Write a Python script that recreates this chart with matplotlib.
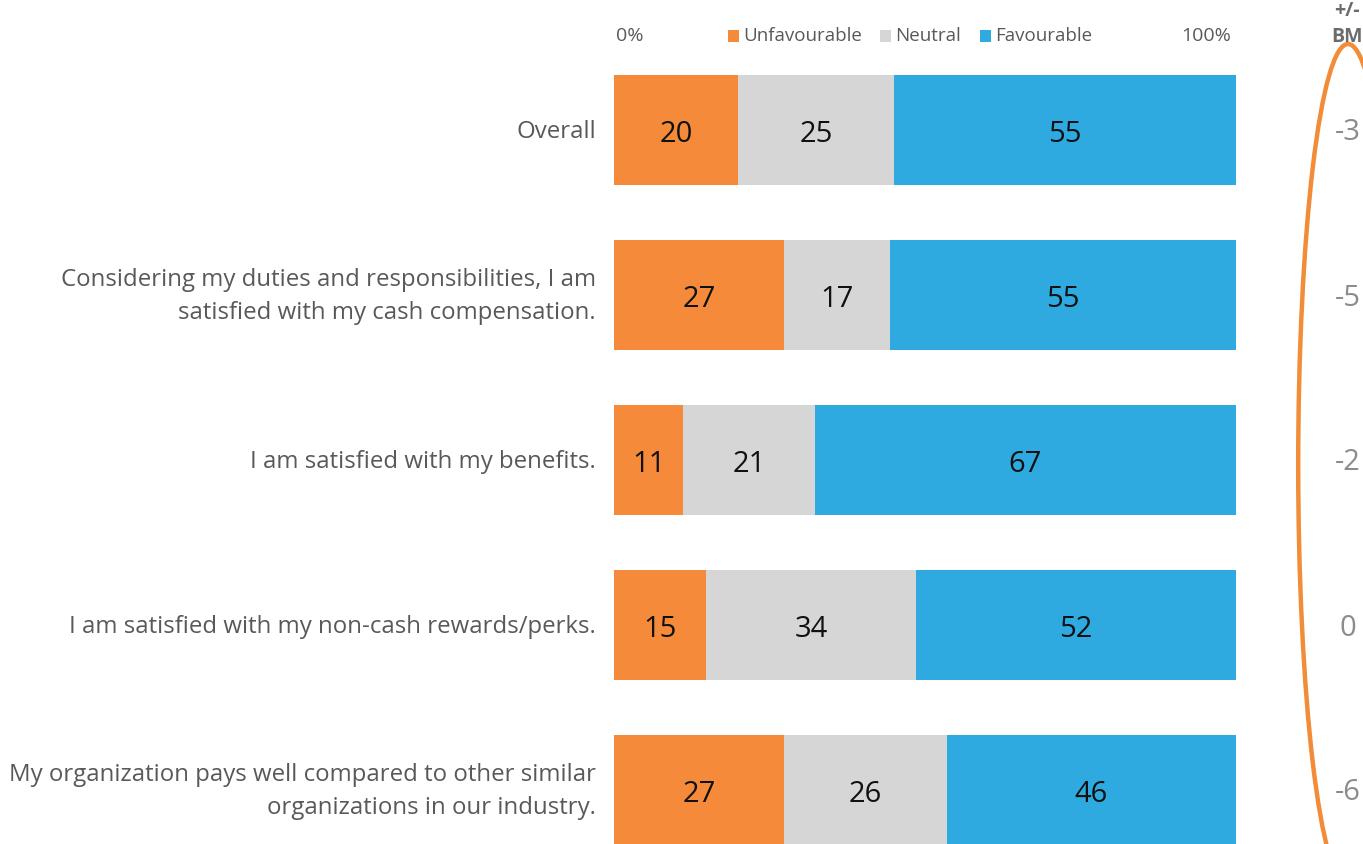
import matplotlib
matplotlib.use("Agg")
import matplotlib.pyplot as plt
from matplotlib.patches import Ellipse, Rectangle
import numpy as np

plt.rcParams['font.family'] = ['Open Sans', 'DejaVu Sans']

categories = [
    "Overall",
    "Considering my duties and responsibilities, I am\nsatisfied with my cash compensation.",
    "I am satisfied with my benefits.",
    "I am satisfied with my non-cash rewards/perks.",
    "My organization pays well compared to other similar\norganizations in our industry.",
]
unfavourable = [20, 27, 11, 15, 27]
neutral = [25, 17, 21, 34, 26]
favourable = [55, 55, 67, 52, 46]
bm_diff = ["-3", "-5", "-2", "0", "-6"]
series_names = ["Unfavourable", "Neutral", "Favourable"]
colors = ["#F58B3A", "#D6D6D6", "#2EAAE1"]

W, H = 1363, 844
fig = plt.figure(figsize=(W / 100, H / 100), dpi=100)

# main axes: x spans pixel 614..1236, full height
ax = fig.add_axes([614 / W, 0, (1236 - 614) / W, 1])
ax.set_xlim(0, 100)
y0 = -130 / 165
y1 = (H - 130) / 165
ax.set_ylim(y1, y0)
ax.axis("off")

data = np.array([unfavourable, neutral, favourable], dtype=float)
totals = data.sum(axis=0)
norm = data / totals * 100
ypos = np.arange(len(categories))
left = np.zeros(len(categories))
for k in range(3):
    ax.barh(ypos, norm[k], left=left, height=110 / 165, color=colors[k], edgecolor="none")
    for i in range(len(categories)):
        ax.text(left[i] + norm[k][i] / 2, ypos[i] + 0.03, str(int(data[k][i])),
                ha="center", va="center", fontsize=21, color="#111111")
    left += norm[k]

# category labels
for i, c in enumerate(categories):
    ax.text(-2.9, ypos[i] + 0.012, c, ha="right", va="center", fontsize=17.3,
            color="#595959", linespacing=1.5)

# overlay axes in pixel coordinates for header/legend/BM column
ov = fig.add_axes([0, 0, 1, 1])
ov.set_xlim(0, W)
ov.set_ylim(H, 0)
ov.axis("off")

ov.text(630, 36, "0%", ha="center", va="center", fontsize=14, color="#595959")
ov.text(1206, 36, "100%", ha="center", va="center", fontsize=14, color="#595959")
leg_x = [728, 880, 980]
for k, name in enumerate(series_names):
    ov.add_patch(Rectangle((leg_x[k], 30), 11, 12, color=colors[k], lw=0))
    ov.text(leg_x[k] + 15, 36, name, ha="left", va="center", fontsize=13.5, color="#595959")

# BM column
ov.text(1334, 11, "+/-", ha="left", va="center", fontsize=14, fontweight="bold", color="#6b6b6b")
ov.text(1331, 37, "BM", ha="left", va="center", fontsize=14, fontweight="bold", color="#6b6b6b")
for i, v in enumerate(bm_diff):
    ov.text(1348, 133 + 165 * i, v, ha="center", va="center", fontsize=21, color="#8c8c8c")

ov.add_patch(Ellipse((1348, 465), 2 * 49.8, 2 * 421, fill=False, edgecolor="#F28C38", lw=3.2))

fig.savefig("out.png", dpi=100)
